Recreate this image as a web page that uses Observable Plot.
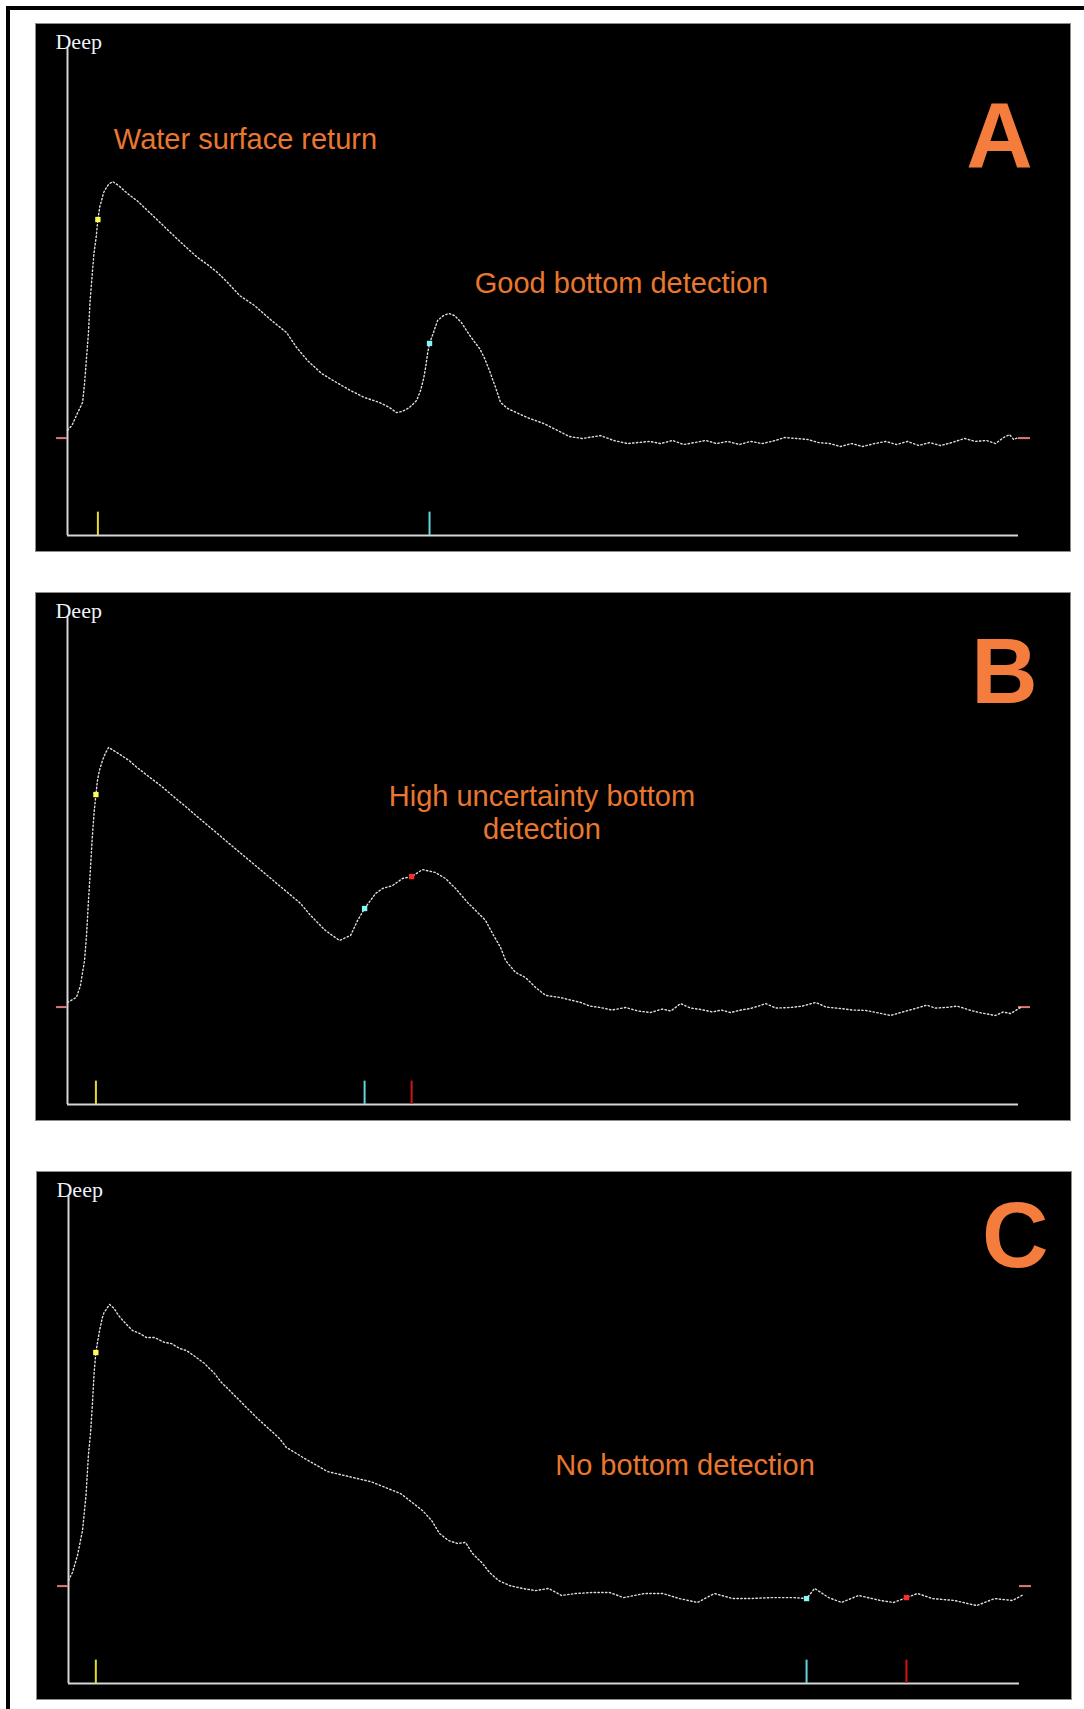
<!DOCTYPE html>
<html><head><meta charset="utf-8">
<script src="https://cdn.jsdelivr.net/npm/d3@7"></script>
<script src="https://cdn.jsdelivr.net/npm/@observablehq/plot@0.6"></script>
<style>
html,body{margin:0;padding:0;background:#fff;}
#page{position:relative;width:1084px;height:1709px;background:#fff;overflow:hidden;}
#frameTop{position:absolute;left:6px;top:6px;width:1078px;height:4px;background:#000;}
#frameLeft{position:absolute;left:6px;top:6px;width:4px;height:1703px;background:#000;}
.panel{position:absolute;width:1034px;height:527px;background:#000;outline:1px solid #8c8c8c;}
.panel svg{display:block;}
</style></head><body>
<div id="page"><div id="frameTop"></div><div id="frameLeft"></div></div>
<script>
// ---------- Panel A : good bottom detection ----------
const binsA = [0,2,4.5,6.9,7.8,8.6,9.6,10.3,11.3,12.1,13.1,13.9,14.8,15.6,16.5,17.8,18.8,20.6,23.3,27.4,32,36.6,41.2,45.7,48.5,54.9,59.5,64,68.6,73.2,78.7,85.5,93.3,100.2,104.8,109.8,116.2,123.1,129.5,135.9,142.7,147.3,150.5,153.2,156.4,159.7,161.5,162.9,163.8,164.7,165.6,167.4,169.3,172,174.3,177,180.2,183.4,185.7,188.5,190.8,193,195.8,198.1,201.3,206.3,211.3,217.8,224.2,229.6,235.6,243.8,249.8,256.2,266.2,271.3,276.8,281.8,286.8,291.9,296.9,301.9,307.4,312.4,317.9,323.9,328,333.5,338.5,343.6,348.6,353.6,358.7,363.7,369.2,374.2,379.2,384.3,389.3,394.3,399.4,404.4,410.3,415.4,420.4,424.5,428.2,430.9,432.8,435];
const ampA = [54,56.5,62.6,68.3,78,89.8,104.2,120,134,144.8,153,162.2,168.9,172,176,178.6,180.2,181.7,179.7,175.6,171.7,166.8,161.9,157,154,147.3,142.7,139.1,135,129.9,123.2,118.1,110.4,104.2,96.5,89.8,83.2,78.5,74.4,70.8,68.3,65.7,63.1,63.7,65.7,69.3,74.4,80.6,86.2,93.4,98.6,104.2,110.4,112.9,114,112.9,109.3,103.7,100.1,96,90.9,84.7,76,68.3,65.2,62.6,60.1,57.5,53.9,50.8,49.8,51.3,48.8,47.2,48.3,47.2,48.8,46.7,47.7,48.8,47.2,48.3,46.7,48.3,47.2,48.8,50.3,49.8,49.3,47.7,47.2,45.7,47.2,45.7,47.2,48.3,46.7,48.3,46.2,47.7,46.2,47.7,49.8,48.3,48.8,47.2,50.3,51.8,49.3,50.3];
const markerBinsA = [13.9,165.6];
const markerAmpsA = [162.2,98.6];
const markerKindsA = ["surface","bottom"];
const notesA = ["Water surface return","Good bottom detection"];
const noteBinsA = [81.4,253.4];
const noteAmpsA = [204,130.1];

// ---------- Panel B : high uncertainty bottom detection ----------
const binsB = [0,4.1,5.9,7.8,8.7,9.6,10.5,11.3,12.2,13,13.7,14.6,16,17.4,18.8,23.3,28.4,31.6,38,43,49.4,54.4,60.8,67.2,74.1,83.7,88.7,106.6,111.2,118,124.4,129.5,132.7,135.9,140.9,144.1,148.7,153.2,157.4,162.4,168.3,172.9,177.5,183,187.6,191.2,194.4,198.1,200.4,204.9,209.5,214.1,218.7,225.5,234.7,239,243.8,249,255.3,261,266.7,272,276,280.4,285,289.6,295,299,303.3,308,312.4,316,319.3,324,330.7,336,342.2,347,353.6,359,365,371,376.5,382,387.9,393,397,401.6,407,413.1,418,424.5,428,431.4,436];
const ampB = [52.4,55,61,74,86.8,104.7,121,136.6,150.4,159.1,166.3,171.5,176.6,180.5,183.3,180.2,176.4,173.2,167.6,163.4,157.2,152.6,146.4,140.4,133.8,124.8,120.1,103.2,97,89.3,84.2,86.8,94.5,100.6,108.3,110.9,112.4,116,117,120.6,119.1,116,110.9,103.7,98.6,94.5,87.8,80.6,73.9,67.8,65.2,60.1,56,54.9,52.4,50.5,49.8,48.5,49.8,48,47.2,49,48,51.8,49.5,48.8,47.5,48.5,47.2,48.5,49.3,50.5,51.8,49.5,49.8,50.5,52.4,50,49.3,48.5,48.3,47,45.7,47.5,49.3,51,49.5,49.8,50.5,48.3,47,45.7,47.5,46.7,49.8];
const markerBinsB = [13,135.9,157.4];
const markerAmpsB = [159.1,100.6,117];
const markerKindsB = ["surface","bottom","alt"];
const notesB = ["High uncertainty bottom\ndetection"];
const noteBinsB = [217];
const noteAmpsB = [150.2];

// ---------- Panel C : no bottom detection ----------
const binsC = [0,1.8,4.1,6.4,8,9.1,10.1,10.9,11.7,12.5,13.5,14.3,15.5,16.3,18.8,20.9,22.9,26.1,29.3,32.5,35.7,39.3,43.9,47.1,50.8,54,57.2,62.2,66.8,70,73.7,76.9,81.4,86.5,91.5,96.5,99.7,104.3,108,118.5,138.3,151.9,157.8,161.9,166.1,169.7,173.8,177.9,181.6,184.8,189,192.6,196.7,201.7,207.7,213.6,219.6,225.5,231.9,239.7,247.5,253.9,263.5,271.8,279.5,287.7,295.5,303.8,311.5,321.6,331.7,337.6,341.3,347.7,353.6,361.4,371.5,377.4,383.3,388.4,395.2,405.3,415.4,423.6,431.8,436.9];
const ampC = [52.9,57,65.7,78.5,96.5,117,128.9,142.7,159.1,169.9,176.6,181.7,187.9,190.5,194.6,192.5,188.9,184.8,181.2,179.7,177.6,177.6,175.1,174.5,172,170.9,168.4,164.3,159.1,154.5,150.4,146.8,141.7,136,130.9,125.8,121.1,118.1,115.5,108.8,103.6,97.5,92.4,88.8,83.7,77,73.4,71.9,72.4,66.7,62.1,57,52.9,50.3,48.8,47.7,48.8,45.2,46.2,46.7,46.7,44.1,46.2,46.2,43.6,41.6,46.2,43.6,43.6,44.1,44.1,43.6,48.8,44.1,41.6,45.2,42.6,41.6,44.1,46.2,43.6,42.6,40,43.6,42.6,45.7];
const markerBinsC = [12.5,337.6,383.3];
const markerAmpsC = [169.9,43.6,44.1];
const markerKindsC = ["surface","bottom","alt"];
const notesC = ["No bottom detection"];
const noteBinsC = [282];
const noteAmpsC = [112.4];

// panel letters and noise-floor reference
const letters = ["A","B","C"];
const letterBins = [426.3,428.6,433];
const letterAmps = [204.3,221,229];
const floorAmp = 50;
const axisLabel = "Deep";

const squareColor = {surface:"#ffff58", bottom:"#86f6f6", alt:"#ff2b2b"};
const tickColor = {surface:"#e4da2c", bottom:"#62d4dc", alt:"#d01515"};

const cfgs = [
  {left:36, top:24, bins:binsA, amp:ampA, mb:markerBinsA, ma:markerAmpsA, mk:markerKindsA, notes:notesA, nb:noteBinsA, na:noteAmpsA, i:0},
  {left:36, top:593, bins:binsB, amp:ampB, mb:markerBinsB, ma:markerAmpsB, mk:markerKindsB, notes:notesB, nb:noteBinsB, na:noteAmpsB, i:1},
  {left:37, top:1172, bins:binsC, amp:ampC, mb:markerBinsC, ma:markerAmpsC, mk:markerKindsC, notes:notesC, nb:noteBinsC, na:noteAmpsC, i:2}
];

const page = document.getElementById("page");
for (const c of cfgs) {
  const wave = c.bins.map((b, k) => ({bin: b, amp: c.amp[k]}));
  const marks = c.mb.map((b, k) => ({bin: b, amp: c.ma[k], kind: c.mk[k]}));
  const notes = c.notes.map((t, k) => ({text: t, bin: c.nb[k], amp: c.na[k]}));
  const chart = Plot.plot({
    width: 1034, height: 527,
    marginLeft: 31, marginRight: 52, marginTop: 24, marginBottom: 16,
    x: {domain: [0, 435], axis: null},
    y: {domain: [0, 250], axis: null},
    color: {type: "identity"},
    style: {background: "#000", color: "#fff"},
    marks: [
      Plot.ruleX([0], {y1: 0, y2: 250, stroke: "#d6d6d6", strokeWidth: 2}),
      Plot.ruleY([0], {x1: 0, x2: 435, stroke: "#d6d6d6", strokeWidth: 2}),
      Plot.ruleY([floorAmp], {x1: -5, x2: 0, stroke: "#e07a7a", strokeWidth: 2}),
      Plot.ruleY([floorAmp], {x1: 435, x2: 440.5, stroke: "#e07a7a", strokeWidth: 2}),
      Plot.ruleX(marks, {x: "bin", y1: 0, y2: 12, stroke: d => tickColor[d.kind], strokeWidth: 2}),
      Plot.line(wave, {x: "bin", y: "amp", stroke: "#dedede", strokeWidth: 1.4, strokeDasharray: "1.4,2.4"}),
      Plot.dot(marks, {x: "bin", y: "amp", symbol: "square", r: 3, fill: d => squareColor[d.kind], stroke: null}),
      Plot.text([axisLabel], {x: -5.5, y: 253.6, text: d => d, textAnchor: "start", fontFamily: "Liberation Serif, DejaVu Serif, serif", fontSize: 22, fill: "#eef2fb"}),
      Plot.text(notes, {x: "bin", y: "amp", text: "text", textAnchor: "middle", lineHeight: 1.14, fontFamily: "Liberation Sans, Arial, sans-serif", fontSize: 29, fill: "#e9772f"}),
      Plot.text([letters[c.i]], {x: () => letterBins[c.i], y: () => letterAmps[c.i], text: d => d, textAnchor: "middle", fontFamily: "Liberation Sans, Arial, sans-serif", fontWeight: "bold", fontSize: 92, fill: "#f47c3c"})
    ]
  });
  const wrap = document.createElement("div");
  wrap.className = "panel";
  wrap.style.left = c.left + "px";
  wrap.style.top = c.top + "px";
  wrap.appendChild(chart);
  page.appendChild(wrap);
}
</script>
</body></html>
